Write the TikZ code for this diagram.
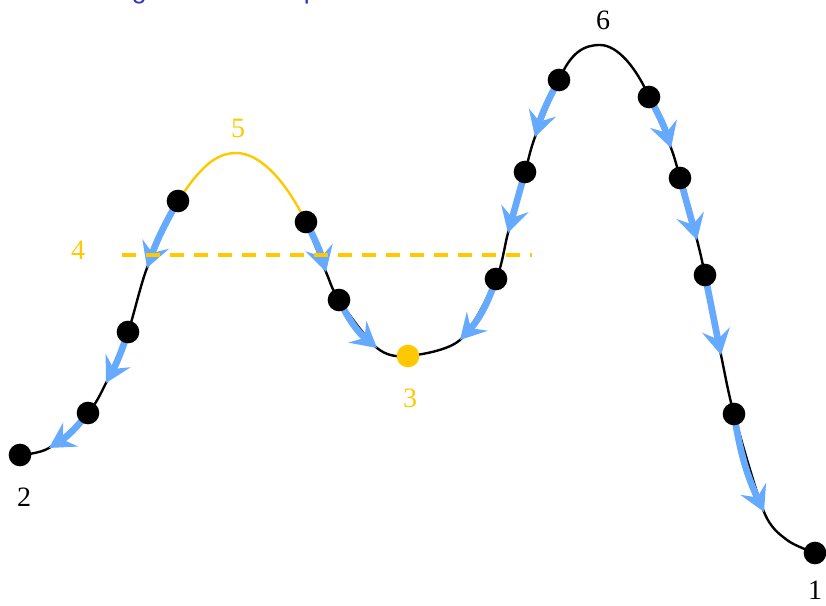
\documentclass[tikz,border=0pt]{standalone}
\usepackage{fontspec}
\setmainfont{Liberation Serif}
\newfontfamily\titlefont{Liberation Sans}
\usetikzlibrary{arrows.meta}
\definecolor{flowblue}{RGB}{102,170,255}
\definecolor{gold}{RGB}{255,200,0}
\definecolor{ttlblue}{RGB}{51,51,187}
\tikzset{bead/.style={circle,fill=black,inner sep=0pt,minimum size=17pt},
         ybead/.style={bead,fill=gold},
         lossline/.style={line width=1.8pt},
         flow/.style={line width=5pt,flowblue,-{Stealth[length=19pt,width=21pt,inset=7pt]}},
         hot/.style={gold,line width=2.4pt,dash pattern=on 10.5pt off 7.5pt},
         lbl/.style={font=\fontsize{21}{25}\selectfont,inner sep=0pt},
         ttl/.style={font=\titlefont\fontsize{20}{24}\selectfont,text=ttlblue,inner sep=0pt}}

\begin{document}
\begin{tikzpicture}[x=0.75pt,y=0.75pt]
\useasboundingbox (0,0) rectangle (826,606);
% points on the landscape
\coordinate (s2) at (20,151);  \coordinate (t1) at (49,158);
\coordinate (d1) at (88,193);  \coordinate (t2) at (106,223);
\coordinate (d2) at (128,274); \coordinate (t3) at (147,338);
\coordinate (d3) at (178,405); \coordinate (p5) at (236,453);
\coordinate (d4) at (306,384); \coordinate (t4) at (326,334);
\coordinate (d5) at (339,306); \coordinate (t5) at (377,258);
\coordinate (m3) at (408,250); \coordinate (t6) at (460,266);
\coordinate (d6) at (496,327); \coordinate (t7) at (508,373);
\coordinate (d7) at (525,434); \coordinate (t8) at (535,469);
\coordinate (d8) at (559,526); \coordinate (p6) at (600,561);
\coordinate (d9) at (649,509); \coordinate (t9) at (671,458);
\coordinate (d10) at (680,428); \coordinate (t10) at (697,366);
\coordinate (d11) at (705,331); \coordinate (t11) at (721,251);
\coordinate (d12) at (734,192); \coordinate (t12) at (764,94);
\coordinate (b1) at (787,66);  \coordinate (e1) at (815,53);
\coordinate (h1) at (122,351); \coordinate (h2) at (532,351);

% title, cut by the page edge
\node[ttl,anchor=base west] (ttl) at (65,607) {Rolling down the slope};

% the curve
\draw[lossline] plot[smooth] coordinates {(s2) (t1) (d1) (t2) (d2) (t3) (d3)};
\draw[lossline,gold] (d3) .. controls (199,437) and (215,453) .. (p5)
                          .. controls (259,453) and (284,428) .. (d4);
\draw[lossline] plot[smooth] coordinates {(d4) (t4) (d5) (t5) (m3) (t6) (d6) (t7) (d7) (t8) (d8)};
\draw[lossline] (d8) .. controls (571,554) and (584,561) .. (p6)
                     .. controls (618,561) and (637,537) .. (d9);
\draw[lossline] plot[smooth] coordinates {(d9) (t9) (d10) (t10) (d11) (t11) (d12) (t12) (b1) (e1)};

% descent steps
\foreach \a/\b/\n in {d1/t1/10,d2/t2/5,d3/t3/-5,d4/t4/6,d5/t5/-12,d6/t6/12,
                      d7/t7/0,d8/t8/-6,d9/t9/6,d10/t10/0,d11/t11/0,d12/t12/-8}
  \draw[flow] (\a) to[bend left=\n] (\b);

\draw[hot] (h1) -- (h2);

\foreach \p in {s2,d1,d2,d3,d4,d5,d6,d7,d8,d9,d10,d11,d12,e1}
  \node[bead] (b\p) at (\p) {};
\node[ybead] (bm3) at (m3) {};

\node[lbl] (l2) at (24,109) {2};
\node[lbl,gold] (l4) at (78,356) {4};
\node[lbl,gold] (l5) at (238,478) {5};
\node[lbl,gold] (l3) at (410,208) {3};
\node[lbl] (l6) at (603,586) {6};
\node[lbl] (l1) at (815,16) {1};
\end{tikzpicture}
\end{document}
